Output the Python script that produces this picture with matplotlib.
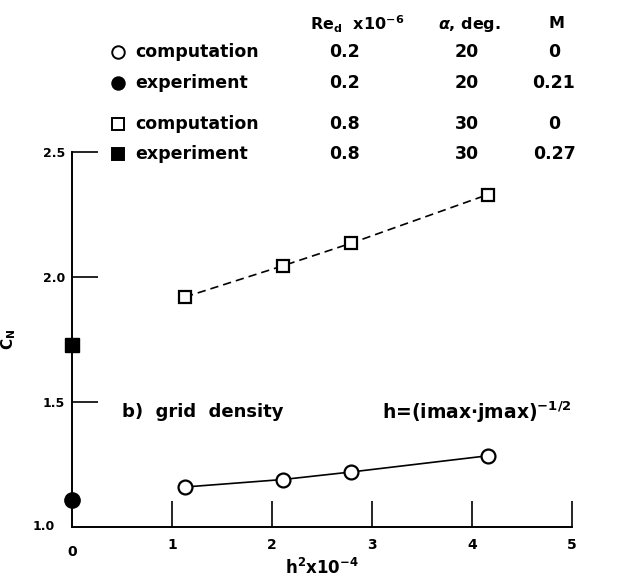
import matplotlib
matplotlib.use('Agg')
import matplotlib.pyplot as plt
from matplotlib.lines import Line2D

# grid refinement study, h^2 x 1e-4
h2 = [1.13, 2.11, 2.79, 4.16]
cn_comp_low = [1.16, 1.19, 1.22, 1.285]     # Re 0.2, alpha 20
cn_comp_high = [1.92, 2.045, 2.135, 2.33]   # Re 0.8, alpha 30
exp_x = [0.0]
cn_exp_low = [1.11]
cn_exp_high = [1.73]

# legend table
row_names = ['computation', 'experiment', 'computation', 'experiment']
row_re = ['0.2', '0.2', '0.8', '0.8']
row_alpha = ['20', '20', '30', '30']
row_mach = ['0', '0.21', '0', '0.27']
row_markers = [('o', 'white'), ('o', 'black'), ('s', 'white'), ('s', 'black')]

plt.rcParams['font.family'] = ['DejaVu Sans']
plt.rcParams['font.weight'] = 'bold'

W, H = 622, 580
fig = plt.figure(figsize=(W / 100, H / 100), dpi=100)
ax = fig.add_axes([72 / W, 1 - 527 / H, 500 / W, 375 / H])

lw = 1.2
ax.plot(h2, cn_comp_low, '-', color='black', lw=lw, marker='o', ms=10,
        mfc='white', mec='black', mew=1.6)
ax.plot(h2, cn_comp_high, '--', color='black', lw=lw, dashes=(5, 3), marker='s', ms=9,
        mfc='white', mec='black', mew=1.6)
ax.plot(exp_x, cn_exp_low, 'o', color='black', ms=11, clip_on=False, zorder=5)
ax.plot(exp_x, cn_exp_high, 's', color='black', ms=10, clip_on=False, zorder=5)

ax.set_xlim(0, 5)
ax.set_ylim(1.0, 2.5)
ax.set_xticks([1, 2, 3, 4, 5])
ax.set_yticks([1.5, 2.0, 2.5])
ax.set_xticklabels(['1', '2', '3', '4', '5'], fontsize=10, fontweight='bold')
ax.set_yticklabels(['1.5', '2.0', '2.5'], fontsize=9, fontweight='bold')
ax.tick_params(direction='in', length=19, width=1.2)
ax.tick_params(axis='x', pad=8)
ax.tick_params(axis='y', pad=5)
for s in ['top', 'right']:
    ax.spines[s].set_visible(False)
for s in ['left', 'bottom']:
    ax.spines[s].set_linewidth(1.4)

# axis-corner labels
ax.text(-0.035, 1.0, '1.0', fontsize=9, fontweight='bold', ha='right', va='center',
        transform=ax.get_yaxis_transform())
ax.text(0, -0.047, '0', fontsize=10, fontweight='bold', ha='center', va='top',
        transform=ax.get_xaxis_transform())

ax.set_xlabel(r'h$^{\mathbf{2}}$x10$^{\mathbf{-4}}$', fontsize=12, fontweight='bold', labelpad=4)
ax.set_ylabel(r'C$_{\mathbf{N}}$', fontsize=11, fontweight='bold')
ax.yaxis.set_label_coords(-0.108, 0.5)

ax.text(0.5, 1.46, 'b)  grid  density', fontsize=13, fontweight='bold', va='center')
ax.text(3.1, 1.46, r'h=(imax$\cdot$jmax)$^{\mathbf{-1/2}}$', fontsize=13.5, fontweight='bold',
        va='center')

# legend table at top
def fx(px):
    return px / W

def fy(py):
    return 1 - py / H

fs = 12.5
fig.text(fx(310), fy(24), r'Re$_{\mathbf{d}}$  x10$^{\mathbf{-6}}$', fontsize=11.5,
         fontweight='bold', va='center')
fig.text(fx(469), fy(24), r'$\alpha$, deg.', fontsize=11.5, fontweight='bold',
         va='center', ha='center')
fig.text(fx(557), fy(24), 'M', fontsize=11.5, fontweight='bold', va='center', ha='center')

row_y = [52, 83, 124, 154]
for i, y in enumerate(row_y):
    m, fc = row_markers[i]
    fig.add_artist(Line2D([fx(118)], [fy(y)], marker=m, ms=9 if m == 'o' else 8,
                          mfc=fc, mec='black', mew=1.4, color='black',
                          transform=fig.transFigure))
    fig.text(fx(135), fy(y), row_names[i], fontsize=fs, fontweight='bold', va='center')
    fig.text(fx(345), fy(y), row_re[i], fontsize=fs, fontweight='bold', va='center', ha='center')
    fig.text(fx(467), fy(y), row_alpha[i], fontsize=fs, fontweight='bold', va='center', ha='center')
    fig.text(fx(554), fy(y), row_mach[i], fontsize=fs, fontweight='bold', va='center', ha='center')

fig.savefig('out.png', dpi=100)
